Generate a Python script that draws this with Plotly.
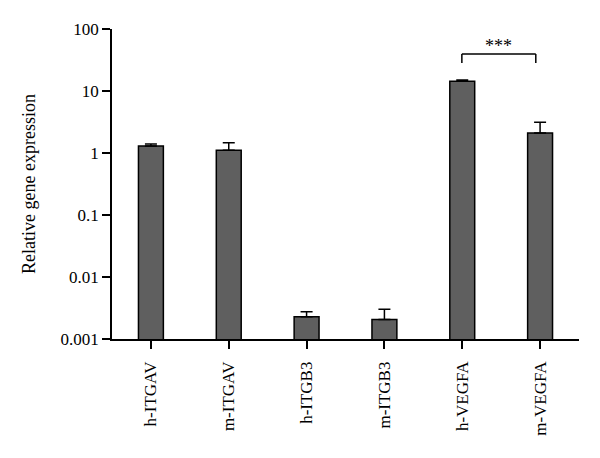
import plotly.graph_objects as go

categories = ["h-ITGAV", "m-ITGAV", "h-ITGB3", "m-ITGB3", "h-VEGFA", "m-VEGFA"]
values = [1.30, 1.11, 0.00229, 0.00207, 14.3, 2.10]
errors = [0.10, 0.36, 0.00046, 0.00094, 0.8, 1.03]
y_tickvals = [0.001, 0.01, 0.1, 1, 10, 100]
y_ticktext = ["0.001", "0.01", "0.1", "1", "10", "100"]

FONT = "Liberation Serif"

fig = go.Figure()
fig.add_trace(go.Bar(
    x=list(range(len(categories))), y=values,
    marker=dict(color="#5f5f5f", line=dict(color="black", width=1.5)),
    width=0.32,
    error_y=dict(type="data", array=errors, symmetric=False, arrayminus=[0]*len(values),
                 color="black", thickness=1.5, width=6, visible=True),
))

# significance bracket between h-VEGFA and m-VEGFA
bx0, bx1 = 3.995, 4.945
by_top, by_bot = 39.5, 28.3
fig.add_shape(type="line", xref="x", yref="y", x0=bx0, x1=bx1, y0=by_top, y1=by_top,
              line=dict(color="black", width=1.5))
fig.add_shape(type="line", xref="x", yref="y", x0=bx0, x1=bx0, y0=by_top, y1=by_bot,
              line=dict(color="black", width=1.5))
fig.add_shape(type="line", xref="x", yref="y", x0=bx1, x1=bx1, y0=by_top, y1=by_bot,
              line=dict(color="black", width=1.5))
fig.add_annotation(x=(bx0 + bx1) / 2, y=1.72, xref="x", yref="y", text="***",
                   showarrow=False, font=dict(family=FONT, size=18, color="black"),
                   yanchor="middle")

fig.update_layout(
    width=592, height=450,
    margin=dict(l=104, r=21, t=21, b=119),
    paper_bgcolor="white", plot_bgcolor="white",
    showlegend=False,
    font=dict(family=FONT, size=17, color="black"),
)
fig.update_xaxes(
    range=[-0.5, 5.5], tickmode="array", tickvals=list(range(len(categories))),
    ticktext=categories, tickangle=-90, ticks="outside", ticklen=8, tickwidth=1.5,
    tickcolor="black", showline=True, linecolor="black", linewidth=1.5,
    showgrid=False, zeroline=False, tickfont=dict(family=FONT, size=17),
    ticklabelstandoff=6,
)
fig.update_yaxes(
    type="log", range=[-3, 2], tickmode="array", tickvals=y_tickvals, ticktext=y_ticktext,
    ticks="outside", ticklen=8, tickwidth=1.5, tickcolor="black",
    showline=True, linecolor="black", linewidth=1.5, showgrid=False, zeroline=False,
    tickfont=dict(family=FONT, size=17),
    title=dict(text="Relative gene expression", font=dict(family=FONT, size=18), standoff=20),
)

fig.write_html("out.html")
